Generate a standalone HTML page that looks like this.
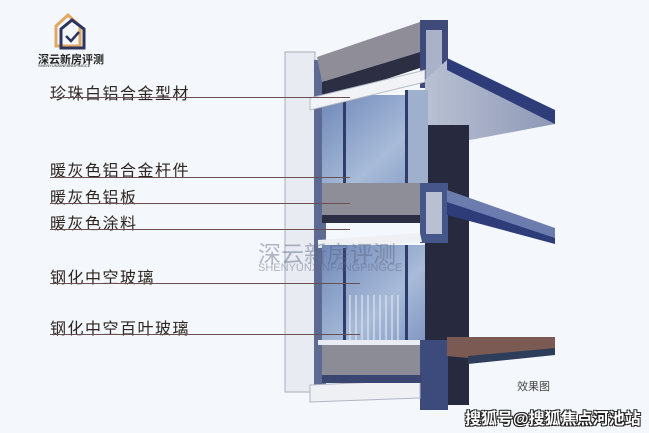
<!DOCTYPE html>
<html><head><meta charset="utf-8"><style>
body{margin:0;width:649px;height:433px;overflow:hidden;background:#f4f7fb;font-family:"Liberation Sans","Noto Sans CJK SC",sans-serif}
.l{position:absolute;left:50px;font-size:16px;color:#2e2620;letter-spacing:1.5px;white-space:nowrap}
.ln{position:absolute;left:50px;height:1px;background:#6a5050}
</style></head><body>
<svg width="649" height="433" style="position:absolute;left:0;top:0">
<defs>
<linearGradient id="g" x1="0" y1="0" x2="1" y2="1"><stop offset="0" stop-color="#6f88b8"/><stop offset="0.6" stop-color="#a8bbd8"/><stop offset="1" stop-color="#7f96c2"/></linearGradient>
<linearGradient id="u" x1="0" y1="0" x2="1" y2="0"><stop offset="0" stop-color="#b9c1d3"/><stop offset="1" stop-color="#8e98b6"/></linearGradient>
</defs>
<rect x="285" y="52" width="30" height="340" fill="#e8ecf2" stroke="#a7aebb"/>
<rect x="314" y="60" width="12" height="335" fill="#5d6b92"/>
<polygon points="317,57 420,22 420,52 322,82" fill="#8f8e98"/>
<polygon points="322,82 420,52 420,68 322,100" fill="#2c2f44"/>
<rect x="420" y="20" width="28" height="68" fill="#3d4a7a"/>
<rect x="426" y="30" width="16" height="50" fill="#a9b2c8"/>
<polygon points="425,80 447,60 555,113 555,124 470,140 425,132" fill="url(#u)"/>
<polygon points="447,58 555,110 555,124 447,70" fill="#2e3d7a"/>
<rect x="425" y="125" width="44" height="280" fill="#272a3f"/>
<rect x="322" y="95" width="105" height="100" fill="url(#g)"/>
<rect x="343" y="100" width="3" height="95" fill="#2f3c6a"/>
<rect x="405" y="90" width="3" height="100" fill="#2f3c6a"/>
<rect x="408" y="90" width="20" height="95" fill="#9fb0cc"/>
<polygon points="310,98 425,70 425,82 310,110" fill="#f2f3f6" stroke="#b5bac6"/>
<rect x="322" y="183" width="100" height="38" fill="#8e8e98"/>
<rect x="322" y="215" width="100" height="8" fill="#2c2f44"/>
<rect x="420" y="183" width="28" height="60" fill="#45568a"/>
<rect x="426" y="192" width="16" height="42" fill="#b8c0d2"/>
<polygon points="447,190 555,228 555,240 447,205" fill="#6c7cae"/>
<polygon points="447,202 555,238 555,244 447,215" fill="#2e3d7a"/>
<polygon points="318,240 420,233 422,242 318,248" fill="#eef0f4"/>
<rect x="322" y="245" width="103" height="100" fill="url(#g)"/>
<rect x="343" y="248" width="3" height="95" fill="#2f3c6a"/>
<g stroke="#dfe6f0" stroke-width="1.2">
<line x1="350" y1="295" x2="350" y2="340"/><line x1="356" y1="295" x2="356" y2="340"/><line x1="362" y1="295" x2="362" y2="340"/><line x1="368" y1="295" x2="368" y2="340"/><line x1="374" y1="295" x2="374" y2="340"/><line x1="380" y1="295" x2="380" y2="340"/><line x1="386" y1="295" x2="386" y2="340"/><line x1="392" y1="295" x2="392" y2="340"/><line x1="398" y1="295" x2="398" y2="340"/></g>
<rect x="405" y="245" width="3" height="95" fill="#2f3c6a"/>
<rect x="318" y="340" width="110" height="5" fill="#e9ecf2"/>
<rect x="322" y="345" width="102" height="32" fill="#8c8c96"/>
<rect x="420" y="340" width="28" height="70" fill="#3c4a7c"/>
<polygon points="447,337 555,337 555,350 468,358 447,356" fill="#7a5a52"/>
<polygon points="468,356 555,348 555,355 468,364" fill="#2e3d5a"/>
<polygon points="310,385 420,380 420,398 310,402" fill="#eef0f4" stroke="#b0b6c2"/>
<rect x="322" y="375" width="100" height="8" fill="#3a4670"/>
</svg>
<div class="l" style="top:80px">珍珠白铝合金型材</div><div class="ln" style="top:97px;width:300px"></div>
<div class="l" style="top:157px">暖灰色铝合金杆件</div><div class="ln" style="top:177px;width:300px"></div>
<div class="l" style="top:184px">暖灰色铝板</div><div class="ln" style="top:203px;width:300px"></div>
<div class="l" style="top:210px">暖灰色涂料</div><div class="ln" style="top:229px;width:300px"></div>
<div class="l" style="top:264px">钢化中空玻璃</div><div class="ln" style="top:283px;width:310px"></div>
<div class="l" style="top:315px">钢化中空百叶玻璃</div><div class="ln" style="top:334px;width:310px"></div>
<svg width="40" height="40" style="position:absolute;left:52px;top:12px"><polygon points="4,14 16,3 28,14 28,34 4,34" fill="none" stroke="#e0a860" stroke-width="3"/><polygon points="9,17 20,8 32,17 32,36 9,36" fill="none" stroke="#2c3560" stroke-width="3"/><polyline points="14,24 19,29 27,20" fill="none" stroke="#2c3560" stroke-width="2.5"/></svg>
<div style="position:absolute;left:38px;top:51px;font-size:11px;color:#222;font-weight:bold;white-space:nowrap">深云新房评测</div>
<div style="position:absolute;left:38px;top:63px;font-size:4px;color:#222">SHENYUNXINFANGPINGCE</div>
<div style="position:absolute;left:258px;top:235px;font-size:23px;color:rgba(90,100,130,.45);white-space:nowrap">深云新房评测</div>
<div style="position:absolute;left:258px;top:262px;font-size:11px;color:rgba(90,100,130,.45)">SHENYUNXINFANGPINGCE</div>
<div style="position:absolute;left:517px;top:378px;font-size:11px;color:#444;white-space:nowrap">效果图</div>
<div style="position:absolute;left:465px;top:405px;font-size:16px;font-weight:bold;color:#fff;white-space:nowrap;text-shadow:1px 1px 0 #222,-1px -1px 0 #222,1px -1px 0 #222,-1px 1px 0 #222">搜狐号@搜狐焦点河池站</div>
</body></html>
